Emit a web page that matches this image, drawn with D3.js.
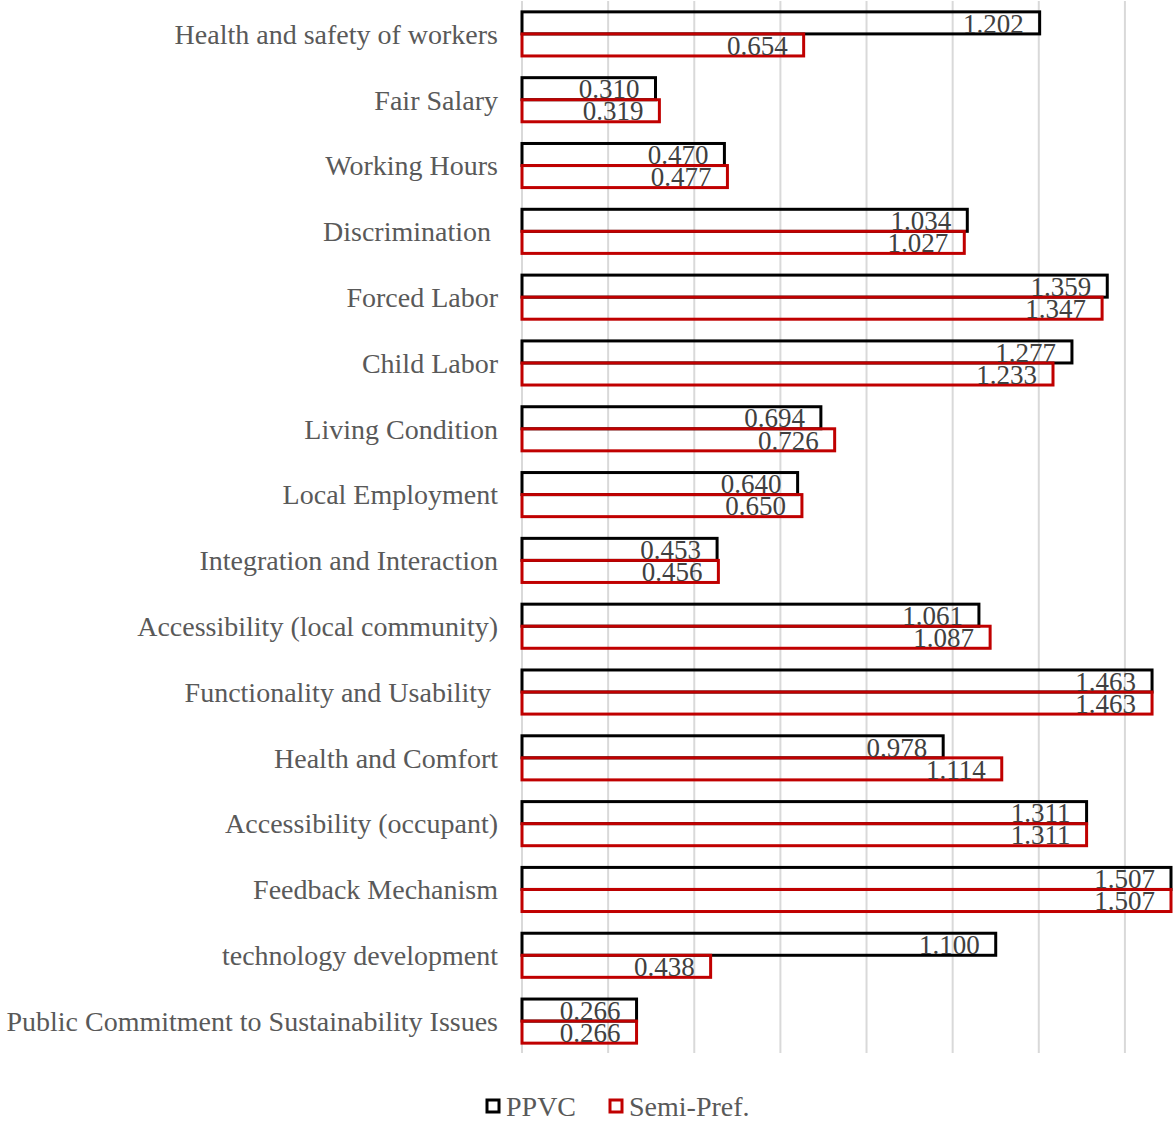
<!DOCTYPE html>
<html>
<head>
<meta charset="utf-8">
<script src="https://cdn.jsdelivr.net/npm/d3@7"></script>
<style>
  body { margin: 0; background: #fff; }
  svg text { white-space: pre; }
</style>
</head>
<body>
<div id="chart"></div>
<script>
const categories = [
  'Health and safety of workers',
  'Fair Salary',
  'Working Hours',
  'Discrimination ',
  'Forced Labor',
  'Child Labor',
  'Living Condition',
  'Local Employment',
  'Integration and Interaction',
  'Accessibility (local community)',
  'Functionality and Usability ',
  'Health and Comfort',
  'Accessibility (occupant)',
  'Feedback Mechanism',
  'technology development',
  'Public Commitment to Sustainability Issues'
];
const ppvc = [1.202, 0.310, 0.470, 1.034, 1.359, 1.277, 0.694, 0.640, 0.453, 1.061, 1.463, 0.978, 1.311, 1.507, 1.100, 0.266];
const semiPref = [0.654, 0.319, 0.477, 1.027, 1.347, 1.233, 0.726, 0.650, 0.456, 1.087, 1.463, 1.114, 1.311, 1.507, 0.438, 0.266];
const xTicks = [0, 0.2, 0.4, 0.6, 0.8, 1.0, 1.2, 1.4];
const seriesNames = ['PPVC', 'Semi-Pref.'];
const seriesColors = ['#000000', '#c00000'];

const width = 1173, height = 1124;
const svg = d3.select('#chart').append('svg')
    .attr('width', width)
    .attr('height', height)
    .attr('font-family', "'Liberation Serif', 'Times New Roman', 'DejaVu Serif', serif");

const x = d3.scaleLinear().domain([0, 1.507]).range([522, 1171]);
const y = d3.scaleBand().domain(categories).range([1, 1054]).paddingInner(0.33).paddingOuter(0.165);

// gridlines
svg.append('g')
    .selectAll('line')
    .data(xTicks)
    .enter()
    .append('line')
    .attr('x1', d => x(d))
    .attr('x2', d => x(d))
    .attr('y1', 1)
    .attr('y2', 1053)
    .attr('stroke', '#d9d9d9')
    .attr('stroke-width', 2);

const rows = categories.map((c, i) => ({ c, vals: [ppvc[i], semiPref[i]] }));
const bh = y.bandwidth() / 2;

seriesNames.forEach((name, s) => {
    svg.append('g').selectAll('rect')
        .data(rows)
        .enter()
        .append('rect')
        .attr('x', x(0))
        .attr('y', d => y(d.c) + s * bh)
        .attr('width', d => x(d.vals[s]) - x(0))
        .attr('height', bh)
        .attr('fill', 'none')
        .attr('stroke', seriesColors[s])
        .attr('stroke-width', 3);
});

// value labels
seriesNames.forEach((name, s) => {
    svg.append('g').selectAll('text')
        .data(rows)
        .enter()
        .append('text')
        .attr('x', d => x(d.vals[s]) - 16)
        .attr('y', d => y(d.c) + s * bh + bh / 2)
        .attr('dy', '0.36em')
        .attr('text-anchor', 'end')
        .attr('font-size', 27)
        .attr('fill', '#404040')
        .text(d => d.vals[s].toFixed(3));
});

// category labels
svg.append('g').selectAll('text')
    .data(categories)
    .enter()
    .append('text')
    .attr('x', 498)
    .attr('y', d => y(d) + y.bandwidth() / 2)
    .attr('dy', '0.35em')
    .attr('text-anchor', 'end')
    .attr('font-size', 28)
    .attr('fill', '#595959')
    .text(d => d);

// legend
const legend = [
    { name: seriesNames[0], color: seriesColors[0], x: 487 },
    { name: seriesNames[1], color: seriesColors[1], x: 610 }
];
const lg = svg.append('g');
legend.forEach(l => {
    lg.append('rect')
        .attr('x', l.x)
        .attr('y', 1100)
        .attr('width', 12)
        .attr('height', 12)
        .attr('fill', 'none')
        .attr('stroke', l.color)
        .attr('stroke-width', 3);
    lg.append('text')
        .attr('x', l.x + 19)
        .attr('y', 1106)
        .attr('dy', '0.35em')
        .attr('font-size', 28)
        .attr('fill', '#595959')
        .text(l.name);
});
</script>
</body>
</html>
